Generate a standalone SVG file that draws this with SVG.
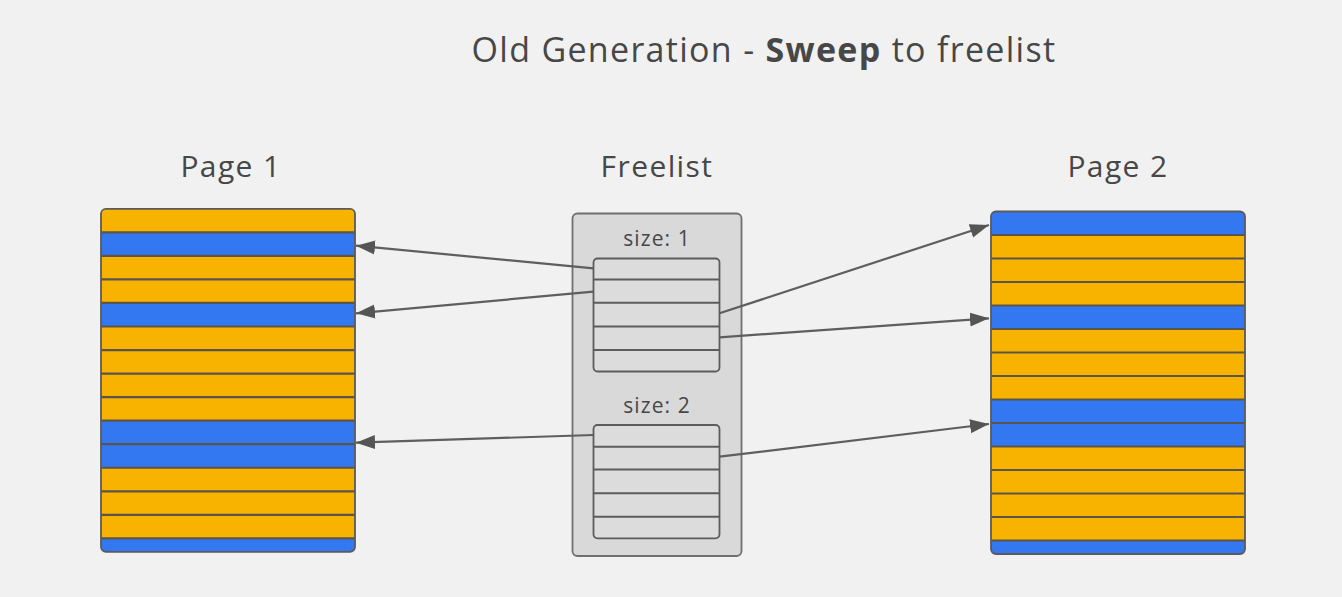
<svg xmlns="http://www.w3.org/2000/svg" width="1342" height="597" viewBox="0 0 1342 597">
<style>
text{font-family:"Open Sans","Liberation Sans",sans-serif;fill:#474747}
.lbl{font-size:30px;letter-spacing:1.4px}
.sz{font-size:21px;letter-spacing:1.1px}
.y{fill:#F8B301}
.b{fill:#3478F1}
.sep{stroke:#5a5548;stroke-width:2.2}
.sl{stroke:#5c5c5c;stroke-width:2}
.outline{fill:none;stroke:#5a5a5a;stroke-width:1.8}
.fl{fill:#d9d9d9;stroke:#6f6f6f;stroke-width:1.8}
.slot{fill:#dcdcdc;stroke:#5c5c5c;stroke-width:1.8}
.arrow{stroke:#5e5e5e;stroke-width:2.2;fill:none;marker-end:url(#ah)}
</style>
<defs>
<marker id="ah" markerUnits="userSpaceOnUse" markerWidth="20" markerHeight="16" viewBox="0 0 20 16" refX="19" refY="8" orient="auto">
<path d="M0,1 L19,8 L0,15 z" fill="#555"/>
</marker>
<clipPath id="c1"><rect x="101" y="208.8" width="254" height="343" rx="5"/></clipPath>
<clipPath id="c2"><rect x="991" y="211.5" width="254" height="342.5" rx="5"/></clipPath>
</defs>
<rect width="1342" height="597" fill="#f1f1f1"/>
<g id="title">
<text x="764" y="62" font-size="34" letter-spacing="1.3" text-anchor="middle">Old Generation - <tspan font-weight="bold">Sweep</tspan> to freelist</text>
</g>
<g id="page1">
<text class="lbl" x="231" y="177" text-anchor="middle">Page 1</text>
<g clip-path="url(#c1)">
<rect class="y" x="101" y="208.8" width="254" height="23.6"/>
<rect class="b" x="101" y="232.34" width="254" height="23.6"/>
<rect class="y" x="101" y="255.88" width="254" height="23.6"/>
<rect class="y" x="101" y="279.42" width="254" height="23.6"/>
<rect class="b" x="101" y="302.96" width="254" height="23.6"/>
<rect class="y" x="101" y="326.5" width="254" height="23.6"/>
<rect class="y" x="101" y="350.04" width="254" height="23.6"/>
<rect class="y" x="101" y="373.58" width="254" height="23.6"/>
<rect class="y" x="101" y="397.12" width="254" height="23.6"/>
<rect class="b" x="101" y="420.66" width="254" height="23.6"/>
<rect class="b" x="101" y="444.2" width="254" height="23.6"/>
<rect class="y" x="101" y="467.74" width="254" height="23.6"/>
<rect class="y" x="101" y="491.28" width="254" height="23.6"/>
<rect class="y" x="101" y="514.82" width="254" height="23.6"/>
<rect class="b" x="101" y="538.36" width="254" height="14"/>
<path class="sep" d="M101 232.34H355M101 255.88H355M101 279.42H355M101 302.96H355M101 326.5H355M101 350.04H355M101 373.58H355M101 397.12H355M101 420.66H355M101 444.2H355M101 467.74H355M101 491.28H355M101 514.82H355M101 538.36H355"/>
</g>
<rect class="outline" x="101" y="208.8" width="254" height="343" rx="5"/>
</g>
<g id="page2">
<text class="lbl" x="1118" y="177" text-anchor="middle">Page 2</text>
<g clip-path="url(#c2)">
<rect class="b" x="991" y="211.5" width="254" height="23.6"/>
<rect class="y" x="991" y="235" width="254" height="23.6"/>
<rect class="y" x="991" y="258.5" width="254" height="23.6"/>
<rect class="y" x="991" y="282" width="254" height="23.6"/>
<rect class="b" x="991" y="305.5" width="254" height="23.6"/>
<rect class="y" x="991" y="329" width="254" height="23.6"/>
<rect class="y" x="991" y="352.5" width="254" height="23.6"/>
<rect class="y" x="991" y="376" width="254" height="23.6"/>
<rect class="b" x="991" y="399.5" width="254" height="23.6"/>
<rect class="b" x="991" y="423" width="254" height="23.6"/>
<rect class="y" x="991" y="446.5" width="254" height="23.6"/>
<rect class="y" x="991" y="470" width="254" height="23.6"/>
<rect class="y" x="991" y="493.5" width="254" height="23.6"/>
<rect class="y" x="991" y="517" width="254" height="23.6"/>
<rect class="b" x="991" y="540.5" width="254" height="14"/>
<path class="sep" d="M991 235H1245M991 258.5H1245M991 282H1245M991 305.5H1245M991 329H1245M991 352.5H1245M991 376H1245M991 399.5H1245M991 423H1245M991 446.5H1245M991 470H1245M991 493.5H1245M991 517H1245M991 540.5H1245"/>
</g>
<rect class="outline" x="991" y="211.5" width="254" height="342.5" rx="5"/>
</g>
<g id="freelist">
<text class="lbl" x="657" y="177" text-anchor="middle">Freelist</text>
<rect class="fl" x="572.5" y="213.5" width="169" height="342.5" rx="5"/>
<text class="sz" x="657" y="246" text-anchor="middle">size: 1</text>
<text class="sz" x="657" y="413" text-anchor="middle">size: 2</text>
</g>
<g id="slots1">
<rect class="slot" x="593.5" y="258.5" width="126" height="113" rx="4"/>
<path class="sl" d="M593.5 279.5H719.5M593.5 302.8H719.5M593.5 326.5H719.5M593.5 350H719.5"/>
</g>
<g id="slots2">
<rect class="slot" x="593.5" y="425" width="126" height="113.3" rx="4"/>
<path class="sl" d="M593.5 446.7H719.5M593.5 469.5H719.5M593.5 493.3H719.5M593.5 516.7H719.5"/>
</g>
<g id="connectors">
<line class="arrow" x1="593.5" y1="268.3" x2="356" y2="245.7"/>
<line class="arrow" x1="593.5" y1="291.7" x2="356" y2="313.3"/>
<line class="arrow" x1="593.5" y1="435" x2="356" y2="442.7"/>
<line class="arrow" x1="719.5" y1="313.3" x2="989" y2="225"/>
<line class="arrow" x1="719.5" y1="337.3" x2="989" y2="318.3"/>
<line class="arrow" x1="719.5" y1="456.7" x2="989" y2="424"/>
</g>
</svg>
